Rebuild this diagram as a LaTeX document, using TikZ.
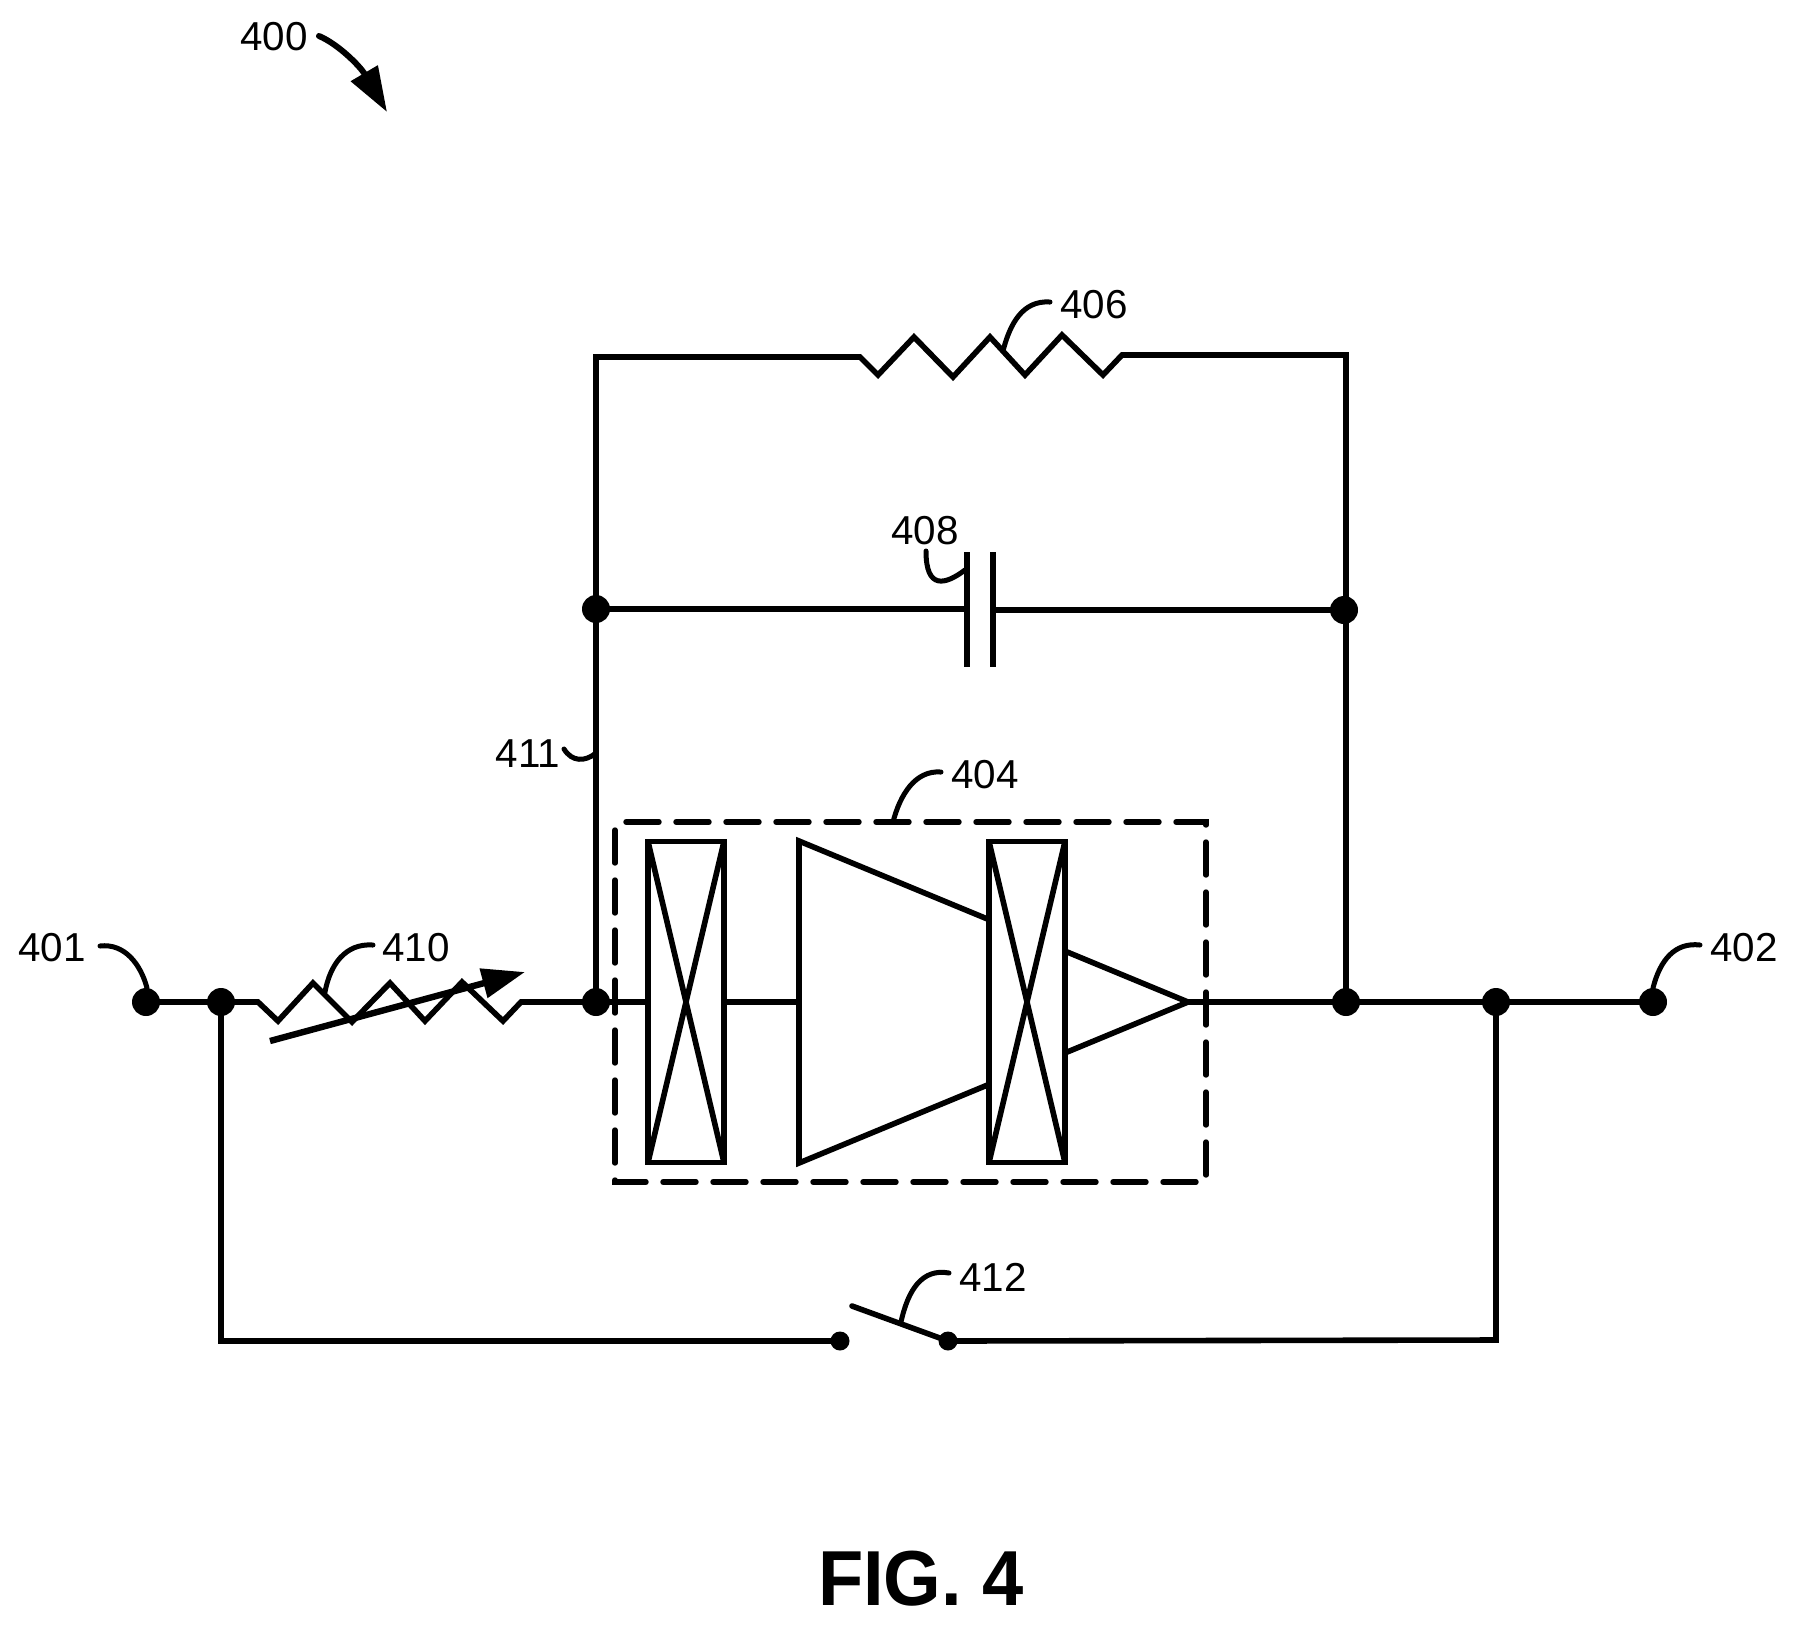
\documentclass[tikz,border=0pt]{standalone}
\usepackage{fontspec}
\setmainfont{Liberation Sans}
\usetikzlibrary{arrows.meta}
\tikzset{
  wire/.style={line width=2.8pt,line cap=butt,line join=miter,miter limit=10},
  leader/.style={line width=2.5pt,line cap=round},
  dot/.style={circle,fill=black,inner sep=0pt,outer sep=0pt,minimum size=14pt},
  smalldot/.style={circle,fill=black,inner sep=0pt,outer sep=0pt,minimum size=9.5pt},
  label/.style={inner sep=0pt,outer sep=0pt,font=\fontsize{20.2}{20.2}\selectfont},
  xbox/.style={draw,line width=2.8pt,fill=white,inner sep=0pt,outer sep=0pt,minimum width=38pt,minimum height=160.5pt},
  dashbox/.style={line width=2.7pt,dash pattern=on 16.5pt off 8.5pt,line cap=round}
}
\begin{document}
\begin{tikzpicture}[x=0.5pt,y=-0.5pt]
\fill[white] (0,0) rectangle (1795,1624);
\useasboundingbox (0,0) rectangle (1795,1624);
% junction dots
\node[dot] (n401) at (146,1002) {};
\node[dot] (nL) at (221,1002) {};
\node[dot] (nM) at (596,1002) {};
\node[dot] (nR) at (1346,1002) {};
\node[dot] (nOut) at (1496,1002) {};
\node[dot] (n402) at (1653,1002) {};
\node[dot] (nMt) at (596,609) {};
\node[dot] (nRt) at (1344,610) {};
\node[smalldot] (swL) at (840,1341) {};
\node[smalldot] (swR) at (948,1341) {};
% labels
\node[label] (t400) at (274,37) {400};
\node[label] (t401) at (52,948) {401};
\node[label] (t402) at (1744,948) {402};
\node[label] (t404) at (985,775) {404};
\node[label] (t406) at (1094,305) {406};
\node[label] (t408) at (925,531) {408};
\node[label] (t410) at (416,948) {410};
\node[label] (t411) at (528,754) {411};
\node[label] (t412) at (993,1277) {412};
\node[inner sep=0pt,outer sep=0pt,font=\fontsize{39}{39}\selectfont\bfseries,xscale=0.95] (fig) at (921,1578.5) {FIG. 4};
% main wires
\draw[wire] (n401.center) -- (nL.center) -- (258,1002)
  -- (278,1021) -- (313,983) -- (352,1022) -- (390,983) -- (425,1021) -- (462,982) -- (503,1021) -- (521,1002)
  -- (nM.center);
\draw[wire] (nM.center) -- (nMt.center) -- (596,357) -- (860,357)
  -- (878,375) -- (914,337) -- (953,377) -- (990,337) -- (1025,375) -- (1062,335) -- (1103,375) -- (1122,355)
  -- (1346,355) -- (nR.center);
% capacitor
\coordinate (capLt) at (967,552); \coordinate (capLb) at (967,667);
\coordinate (capRt) at (993,552); \coordinate (capRb) at (993,667);
\draw[wire] (capLt) -- (capLb);
\draw[wire] (capRt) -- (capRb);
\draw[wire] (nMt.center) -- (967,609);
\draw[wire] (993,610) -- (nRt.center);
% switch
\coordinate (armEnd) at (852,1306);
\draw[wire,line cap=round] (armEnd) -- (swR.center);
\draw[wire] (nL.center) -- (221,1341) -- (swL.center);
\draw[wire] (swR.center) -- (1496,1340) -- (nOut.center);
% amplifier box
\coordinate (triT) at (799,841); \coordinate (triB) at (799,1163);
\coordinate (triA) at (1188,1002); \coordinate (triIn) at (799,1002);
\draw[wire] (triT) -- (triA) -- (triB) -- cycle;
\node[xbox] (b1) at (686,1002) {};
\node[xbox] (b2) at (1027,1002) {};
\foreach \b in {b1,b2}{
  \draw[wire] (\b.north west) -- (\b.south east);
  \draw[wire] (\b.north east) -- (\b.south west);
}
\draw[wire] (nM.center) -- (b1.west);
\draw[wire] (b1.east) -- (triIn);
\draw[wire] (triA) -- (nR.center) -- (nOut.center) -- (n402.center);
% dashed outline
\coordinate (dA) at (626,822); \coordinate (dB) at (1206,822);
\coordinate (dC) at (1206,1182); \coordinate (dD) at (615,1182); \coordinate (dE) at (615,822);
\draw[dashbox] (dA) -- (dB) -- (dC) -- (dD) -- (dE);
% variable-resistor arrow
\coordinate (varS) at (270,1041); \coordinate (varE) at (525,972);
\draw[line width=3.2pt,-{Triangle[length=21.5pt,width=14.5pt]}] (varS) -- (varE);
% reference arrow
\coordinate (r400a) at (319,36); \coordinate (r400b) at (387,112);
\draw[line width=3pt,line cap=round,-{Triangle[length=22.5pt,width=15pt]}] (r400a) .. controls (338,44) and (360,66) .. (r400b);
% leaders
\coordinate (a401) at (100,946); \coordinate (b401) at (147,988);
\draw[leader] (a401) .. controls (125,943) and (141,965) .. (b401);
\coordinate (a410) at (373,945); \coordinate (b410) at (325,992);
\draw[leader] (a410) .. controls (345,943) and (330,965) .. (b410);
\coordinate (a406) at (1050,302); \coordinate (b406) at (1003.5,349);
\draw[leader] (a406) .. controls (1022,300) and (1010,325) .. (b406);
\coordinate (a408) at (926,551); \coordinate (b408) at (965,570);
\draw[leader] (a408) .. controls (926,590) and (945,585) .. (b408);
\coordinate (a404) at (941,772); \coordinate (b404) at (893,822);
\draw[leader] (a404) .. controls (915,770) and (900,795) .. (b404);
\coordinate (a411) at (564,749); \coordinate (b411) at (596,753);
\draw[leader] (a411) .. controls (572,762) and (585,762) .. (b411);
\coordinate (a412) at (949,1273); \coordinate (b412) at (901,1322);
\draw[leader] (a412) .. controls (922,1268) and (908,1290) .. (b412);
\coordinate (a402) at (1700,945); \coordinate (b402) at (1653,988);
\draw[leader] (a402) .. controls (1675,942) and (1660,960) .. (b402);
\end{tikzpicture}
\end{document}
